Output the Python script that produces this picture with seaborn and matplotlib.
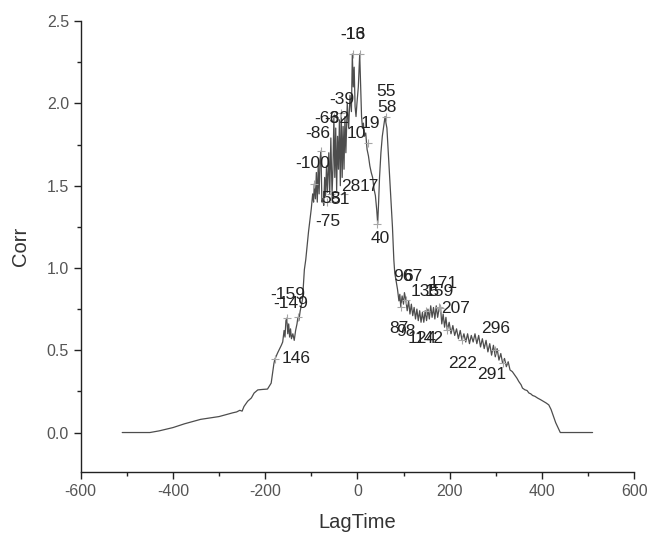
import numpy as np
import pandas as pd
import matplotlib
matplotlib.use('Agg')
import matplotlib.pyplot as plt
import seaborn as sns
from matplotlib.ticker import MultipleLocator

# 곡선 꼭짓점
lag = [-510, -450, -430, -400, -375, -340, -300, -270, -262, -255, -250, -246, -238,
       -230, -224, -216, -205, -195, -187, -181, -179, -173, -165,
       -162, -159, -157, -155, -153, -151, -149, -147, -145, -143, -140, -137,
       -134, -131, -129, -127, -124, -121, -119, -117, -115,
       -112, -106, -100, -97, -95, -93.6, -91, -89, -87, -85, -83, -81, -79,
       -77, -75, -73, -71, -69, -67, -65, -62, -60, -57.6, -55, -53, -51, -49,
       -47, -45, -43, -41, -39, -37, -35, -33, -31, -29, -27, -25, -22, -19,
       -16, -13, -11, -9, -7, -5, -3, -1, 2, 4, 5, 7, 9, 11, 13, 15, 18, 21,
       24, 27, 30, 33, 36, 39, 42, 44, 46, 48, 51, 54, 57, 60, 62, 64, 67, 70,
       73, 76, 79,
       81, 84, 87, 90, 92, 94, 97, 100, 102, 105, 108, 111, 114, 117, 120, 123,
       126, 129, 132, 135, 138, 141, 144, 147, 150, 153, 156, 159, 162, 165,
       168, 171, 174, 177, 180, 183, 186, 189, 192, 195, 199, 203, 207, 211,
       215, 219, 223, 227, 231, 235, 239, 243, 247, 251, 255, 259, 263, 267,
       271, 275, 279, 283, 287, 291, 295, 299, 303, 307, 311, 315, 319, 323,
       327, 331,
       336, 341, 346, 350, 355, 358, 363, 368, 372, 376, 380, 385, 391, 397,
       403, 409, 415, 420, 425, 430, 435, 440, 510]
corr = [0.0, 0.0, 0.01, 0.03, 0.053, 0.08, 0.097, 0.12, 0.125, 0.135, 0.13, 0.158, 0.19,
        0.21, 0.24, 0.259, 0.262, 0.264, 0.30, 0.42, 0.445, 0.484, 0.53,
        0.55, 0.62, 0.58, 0.68, 0.695, 0.60, 0.66, 0.58, 0.63, 0.57, 0.60, 0.56,
        0.62, 0.66, 0.70, 0.68, 0.74, 0.78, 0.81, 0.90, 0.99,
        1.05, 1.22, 1.36, 1.45, 1.40, 1.51, 1.42, 1.58, 1.40, 1.62, 1.45, 1.66, 1.71,
        1.40, 1.42, 1.38, 1.55, 1.44, 1.62, 1.46, 1.70, 1.45, 1.79, 1.45, 1.60, 1.92, 1.55,
        1.85, 1.47, 1.80, 1.60, 1.90, 1.50, 1.94, 1.55, 1.86, 1.60, 1.92, 1.70, 2.0, 1.85,
        2.05, 1.95, 2.30, 2.10, 2.22, 1.98, 1.92, 2.00, 2.10, 2.24, 2.30, 2.10, 1.92, 1.85, 1.88, 1.80, 1.82, 1.72,
        1.68, 1.62, 1.58, 1.55, 1.48, 1.44, 1.35, 1.27, 1.40, 1.55, 1.70, 1.80, 1.86, 1.92, 1.88, 1.85, 1.70, 1.55,
        1.40, 1.25, 1.05,
        0.97, 0.92, 0.87, 0.80, 0.84, 0.765, 0.83, 0.78, 0.85, 0.806, 0.74, 0.80, 0.72, 0.78, 0.71, 0.76,
        0.69, 0.75, 0.68, 0.74, 0.67, 0.73, 0.67, 0.74, 0.68, 0.75, 0.69, 0.77, 0.70, 0.76,
        0.69, 0.77, 0.70, 0.75, 0.77, 0.66, 0.72, 0.64, 0.70, 0.62, 0.67, 0.60, 0.65, 0.59,
        0.63, 0.57, 0.62, 0.56, 0.60, 0.55, 0.60, 0.54, 0.59, 0.55, 0.60, 0.54, 0.59, 0.52,
        0.57, 0.51, 0.56, 0.49, 0.54, 0.47, 0.53, 0.46, 0.51, 0.44, 0.48, 0.42, 0.45, 0.40,
        0.43, 0.38,
        0.37, 0.35, 0.33, 0.31, 0.29, 0.27, 0.26, 0.255, 0.24, 0.235, 0.225, 0.22, 0.209, 0.20,
        0.19, 0.18, 0.168, 0.14, 0.10, 0.06, 0.03, 0.0, 0.0]

# 피크 표시 (+) 위치
peak_x = [-10.6, 5, 61.4, -35, -51, -79, -93.6, 22, 43.5, -57.6, -30, -65, -152.7,
          -129.6, -178.7, 94, 105, 148, 176, 180, 195, 227, 299, 315]
peak_y = [2.30, 2.30, 1.92, 1.94, 1.92, 1.71, 1.51, 1.76, 1.27, 1.45, 1.45, 1.40, 0.695,
          0.70, 0.445, 0.765, 0.806, 0.74, 0.76, 0.755, 0.62, 0.56, 0.50, 0.42]

# 라벨 텍스트와 위치 (원본처럼 일부는 겹쳐 있음)
label_text = ['-16', '-13', '55', '58', '-39', '-63', '-62', '-86', '19', '10', '-100',
              '28', '17', '58', '51', '-75', '40', '96', '67', '135', '159', '171',
              '207', '87', '98', '124', '142', '296', '222', '291', '-159', '-149', '146']
label_x = [-10.6, -9.0, 61.4, 63.6, -34.4, -66.2, -44.6, -86.3, 29, -1.3, -97.1,
           -14.3, 25.3, -57.5, -37.4, -64.7, 50.6, 97.5, 119.2, 148, 176.7, 185,
           212.8, 90.2, 104.7, 140.8, 155.1, 299.4, 227.3, 292.2, -151.2, -145.6, -133.2]
label_y = [2.42, 2.42, 2.07, 1.976, 2.026, 1.909, 1.909, 1.82, 1.878, 1.818, 1.636,
           1.494, 1.494, 1.423, 1.413, 1.281, 1.18, 0.947, 0.947, 0.856, 0.856, 0.907,
           0.755, 0.634, 0.613, 0.573, 0.573, 0.634, 0.417, 0.35, 0.836, 0.786, 0.452]

df = pd.DataFrame({'LagTime': lag, 'Corr': corr})

sns.set_style('ticks')
plt.rcParams['font.family'] = ['Liberation Sans', 'DejaVu Sans']
plt.rcParams['axes.unicode_minus'] = False

fig, ax = plt.subplots(figsize=(6.51, 5.41), dpi=100)
fig.subplots_adjust(left=0.124, right=0.974, top=0.961, bottom=0.1275)

sns.lineplot(x='LagTime', y='Corr', data=df, ax=ax, color='0.3', linewidth=0.9,
             estimator=None, sort=False)
ax.scatter(peak_x, peak_y, marker='+', s=40, color='0.65', linewidths=0.8, zorder=3)

for t, x, y in zip(label_text, label_x, label_y):
    ax.text(x, y, t, ha='center', va='center', fontsize=12.5, color='#222222', zorder=4)

ax.set_xlim(-600, 600)
ax.set_ylim(-0.24, 2.5)
ax.xaxis.set_major_locator(MultipleLocator(200))
ax.xaxis.set_minor_locator(MultipleLocator(100))
ax.yaxis.set_major_locator(MultipleLocator(0.5))
ax.yaxis.set_minor_locator(MultipleLocator(0.25))
ax.yaxis.set_major_formatter(plt.FormatStrFormatter('%.1f'))
ax.tick_params(which='major', direction='out', length=5, width=1, colors='#222222',
               labelcolor='#555555', labelsize=11.5)
ax.tick_params(which='minor', direction='out', length=3, width=1, colors='#222222')

for s in ['top', 'right']:
    ax.spines[s].set_visible(False)
for s in ['left', 'bottom']:
    ax.spines[s].set_color('#222222')
    ax.spines[s].set_linewidth(1.0)

ax.set_xlabel('LagTime', fontsize=14.5, color='#333333', labelpad=10)
ax.set_ylabel('Corr', fontsize=14.5, color='#333333', labelpad=12)

plt.savefig('out.png', dpi=100)
